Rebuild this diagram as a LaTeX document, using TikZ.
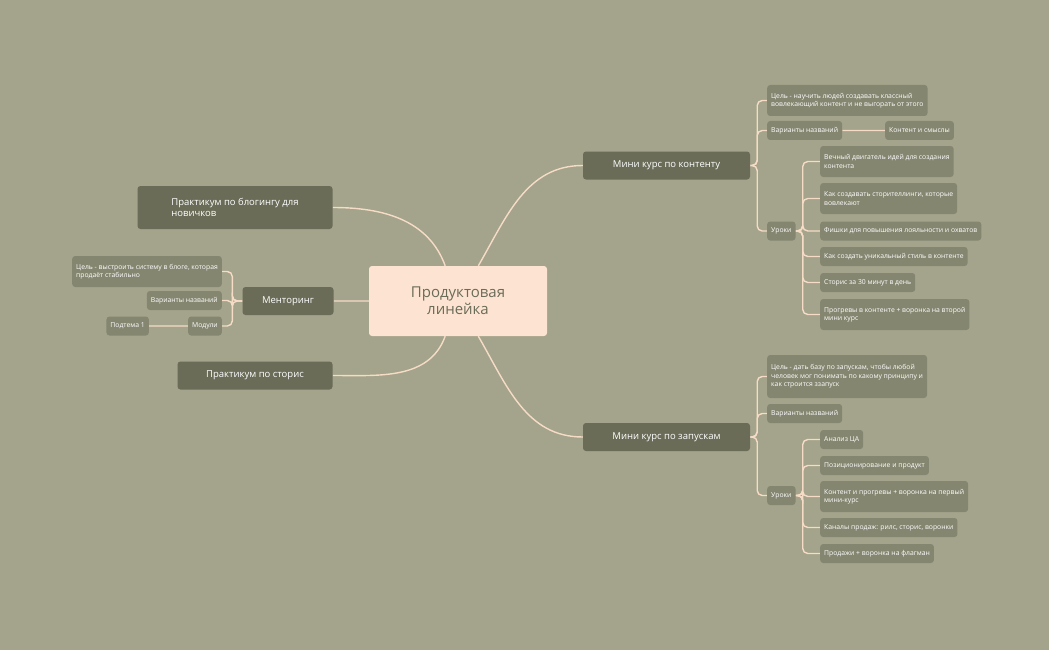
\documentclass[tikz,border=0pt]{standalone}
\usepackage{fontspec}
\setmainfont{Open Sans}
\usetikzlibrary{backgrounds}
\definecolor{bgOlive}{HTML}{A4A38B}
\definecolor{mainBox}{HTML}{6A6C57}
\definecolor{subBox}{HTML}{858670}
\definecolor{rootBox}{HTML}{FDE4D2}
\definecolor{linkCol}{HTML}{F6DCC6}
\tikzset{
  root/.style={fill=rootBox, rounded corners=3pt, minimum width=178pt, minimum height=70pt,
    text=mainBox, font=\fontsize{15}{17}\selectfont, align=center},
  topic/.style={fill=mainBox, rounded corners=3pt, text=white, minimum height=28pt,
    font=\fontsize{9.5}{11}\selectfont, align=left, inner xsep=10pt},
  leaf/.style={fill=subBox, rounded corners=3pt, text=white, minimum height=19pt,
    font=\fontsize{6.8}{8.5}\selectfont, align=left, inner xsep=4pt},
  link/.style={draw=linkCol, line width=1.4pt},
  brace/.style={link, rounded corners=5pt}
}
\begin{document}
\begin{tikzpicture}[x=1pt, y=-1pt]
  \useasboundingbox (0,0) rectangle (1049,650);
  \path node (root) at (458,301) [root] {Продуктовая\\линейка}
        node (blog) at (235,207.5) [topic, minimum width=195pt, minimum height=43pt] {Практикум по блогингу для\\новичков}
        node (ment) at (288,301) [topic, minimum width=91pt] {Менторинг}
        node (stor) at (255,375.5) [topic, minimum width=155pt] {Практикум по сторис}
        node (cont) at (666.5,165.5) [topic, minimum width=167pt] {Мини курс по контенту}
        node (laun) at (666.5,437) [topic, minimum width=167pt] {Мини курс по запускам};
  % менторинг
  \path node (mGoal) at (222,271.5) [leaf, anchor=east, minimum height=31pt] {Цель - выстроить систему в блоге, которая\\продаёт стабильно}
        node (mName) at (222,300.5) [leaf, anchor=east] {Варианты названий}
        node (mMod)  at (222,326) [leaf, anchor=east] {Модули}
        node (mSub)  at (149,326) [leaf, anchor=east] {Подтема 1};
  % контент
  \path node (cGoal) at (767,100.5) [leaf, anchor=west, minimum height=31pt] {Цель - научить людей создавать классный\\вовлекающий контент и не выгорать от этого}
        node (cName) at (767,130.5) [leaf, anchor=west] {Варианты названий}
        node (cSense) at (885,130.5) [leaf, anchor=west] {Контент и смыслы}
        node (cLes) at (767,231) [leaf, anchor=west] {Уроки}
        node (c1) at (820,161.5) [leaf, anchor=west, minimum height=31pt] {Вечный двигатель идей для создания\\контента}
        node (c2) at (820,198.5) [leaf, anchor=west, minimum height=31pt] {Как создавать сторителлинги, которые\\вовлекают}
        node (c3) at (820,231) [leaf, anchor=west] {Фишки для повышения лояльности и охватов}
        node (c4) at (820,256.5) [leaf, anchor=west] {Как создать уникальный стиль в контенте}
        node (c5) at (820,282.5) [leaf, anchor=west] {Сторис за 30 минут в день}
        node (c6) at (820,314.5) [leaf, anchor=west, minimum height=31pt] {Прогревы в контенте + воронка на второй\\мини курс};
  % запуски
  \path node (lGoal) at (767,376.5) [leaf, anchor=west, minimum height=43pt] {Цель - дать базу по запускам, чтобы любой\\человек мог понимать по какому принципу и\\как строится ззапуск}
        node (lName) at (767,413.5) [leaf, anchor=west] {Варианты названий}
        node (lLes) at (767,495.5) [leaf, anchor=west] {Уроки}
        node (l1) at (820,439.5) [leaf, anchor=west] {Анализ ЦА}
        node (l2) at (820,465.5) [leaf, anchor=west] {Позиционирование и продукт}
        node (l3) at (820,496.5) [leaf, anchor=west, minimum height=31pt] {Контент и прогревы + воронка на первый\\мини-курс}
        node (l4) at (820,527.5) [leaf, anchor=west] {Каналы продаж: рилс, сторис, воронки}
        node (l5) at (820,553.5) [leaf, anchor=west] {Продажи + воронка на флагман};
  \begin{scope}[on background layer]
    \fill[bgOlive] (0,0) rectangle (1049,650);
    \draw[link] (root) to[out=110, in=0] (blog.east)
                (root) -- (ment.east)
                (root) to[out=250, in=0] (stor.east)
                (root) to[out=60, in=180] (cont.west)
                (root) to[out=-60, in=180] (laun.west)
                (cName) -- (cSense) (mMod) -- (mSub);
    \foreach \c in {cGoal, cName, cLes}
      \draw[brace] (cont.east) -- ++(7,0) |- (\c.west);
    \foreach \c in {c1, c2, c3, c4, c5, c6}
      \draw[brace] (cLes.east) -- ++(7,0) |- (\c.west);
    \foreach \c in {lGoal, lName, lLes}
      \draw[brace] (laun.east) -- ++(7,0) |- (\c.west);
    \foreach \c in {l1, l2, l3, l4, l5}
      \draw[brace] (lLes.east) -- ++(7,0) |- (\c.west);
    \foreach \c in {mGoal, mName, mMod}
      \draw[brace] (ment.west) -- ++(-10,0) |- (\c.east);
  \end{scope}
\end{tikzpicture}
\end{document}
